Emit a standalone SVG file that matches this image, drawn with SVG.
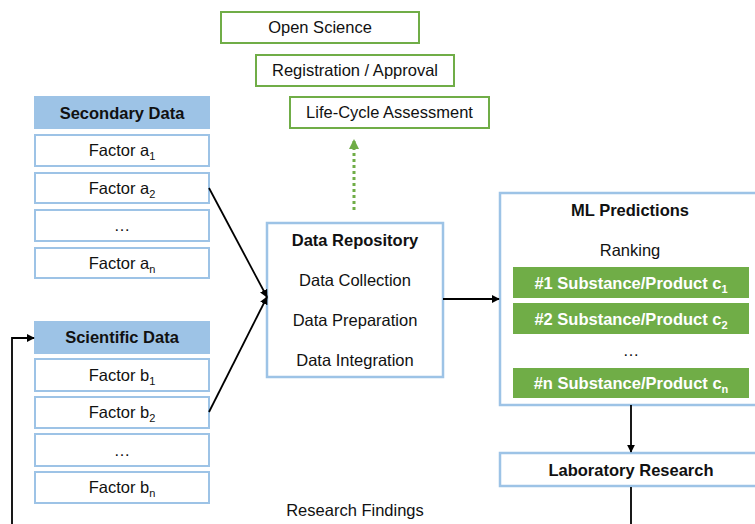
<svg xmlns="http://www.w3.org/2000/svg" width="755" height="524" viewBox="0 0 755 524">
<style>
text{font-family:"Liberation Sans",Arial,sans-serif;font-size:16.5px;fill:#111;text-anchor:middle}
.b{font-weight:bold}
.w{fill:#fff;font-weight:bold}
.hdr{fill:#9DC3E6;stroke:#9DC3E6;stroke-width:2}
.box{fill:#fff;stroke:#9DC3E6;stroke-width:2}
.big{fill:#fff;stroke:#9DC3E6;stroke-width:2.5}
.gbox{fill:#fff;stroke:#70AD47;stroke-width:2}
.gbar{fill:#70AD47}
.ln{fill:none;stroke:#000;stroke-width:1.8}
.sub{font-size:11px}
</style>
<defs>
<marker id="ah" viewBox="0 0 10 10" refX="9" refY="5" markerWidth="8" markerHeight="8" markerUnits="userSpaceOnUse" orient="auto"><path d="M0,0L10,5L0,10z" fill="#000"/></marker>
<marker id="ag" viewBox="0 0 10 10" refX="9" refY="5" markerWidth="10" markerHeight="10" markerUnits="userSpaceOnUse" orient="auto"><path d="M0,0L10,5L0,10z" fill="#70AD47"/></marker>
</defs>
<g id="open-science"><rect class="gbox" x="221" y="12" width="198" height="31"/><text x="320" y="33">Open Science</text></g>
<g id="registration"><rect class="gbox" x="256" y="55" width="198" height="31"/><text x="355" y="76">Registration / Approval</text></g>
<g id="lca"><rect class="gbox" x="290" y="97" width="199" height="31"/><text x="389.5" y="118">Life-Cycle Assessment</text></g>

<g id="secondary-data">
<rect class="hdr" x="35" y="97" width="174" height="31"/><text class="b" x="122" y="118.5">Secondary Data</text>
<rect class="box" x="35" y="135" width="174" height="31"/><text x="122" y="156">Factor a<tspan class="sub" dy="4">1</tspan></text>
<rect class="box" x="35" y="173" width="174" height="30"/><text x="122" y="193.5">Factor a<tspan class="sub" dy="4">2</tspan></text>
<rect class="box" x="35" y="210" width="174" height="31"/><text x="122" y="231">…</text>
<rect class="box" x="35" y="248" width="174" height="30"/><text x="122" y="268.5">Factor a<tspan class="sub" dy="4">n</tspan></text>
</g>
<g id="scientific-data">
<rect class="hdr" x="35" y="322" width="174" height="31"/><text class="b" x="122" y="343">Scientific Data</text>
<rect class="box" x="35" y="359" width="174" height="32"/><text x="122" y="381">Factor b<tspan class="sub" dy="4">1</tspan></text>
<rect class="box" x="35" y="397" width="174" height="31"/><text x="122" y="418">Factor b<tspan class="sub" dy="4">2</tspan></text>
<rect class="box" x="35" y="434" width="174" height="32"/><text x="122" y="456">…</text>
<rect class="box" x="35" y="472" width="174" height="31"/><text x="122" y="493">Factor b<tspan class="sub" dy="4">n</tspan></text>
</g>
<g id="data-repository">
<rect class="big" x="267" y="223" width="176" height="154"/>
<text class="b" x="355" y="246">Data Repository</text>
<text x="355" y="286">Data Collection</text>
<text x="355" y="326">Data Preparation</text>
<text x="355" y="366">Data Integration</text>
</g>
<g id="ml-predictions">
<rect class="big" x="500" y="193" width="265" height="212"/>
<text class="b" x="630" y="216">ML Predictions</text>
<text x="630" y="256">Ranking</text>
<rect class="gbar" x="513" y="267" width="236" height="31"/><text class="w" x="631" y="289">#1 Substance/Product c<tspan class="sub" dy="4">1</tspan></text>
<rect class="gbar" x="513" y="303" width="236" height="31"/><text class="w" x="631" y="325">#2 Substance/Product c<tspan class="sub" dy="4">2</tspan></text>
<text x="631" y="356">…</text>
<rect class="gbar" x="513" y="368" width="236" height="30"/><text class="w" x="631" y="389">#n Substance/Product c<tspan class="sub" dy="4">n</tspan></text>
</g>
<g id="laboratory-research">
<rect class="big" x="500" y="453" width="265" height="33"/>
<text class="b" x="631" y="476">Laboratory Research</text>
</g>
<g id="research-findings"><text x="355" y="516">Research Findings</text></g>
<g id="connectors">
<line class="ln" x1="209" y1="188" x2="267" y2="297" marker-end="url(#ah)"/>
<line class="ln" x1="209" y1="412" x2="267" y2="297" marker-end="url(#ah)"/>
<line class="ln" x1="443" y1="299" x2="499" y2="299" marker-end="url(#ah)"/>
<line class="ln" x1="631" y1="405" x2="631" y2="452" marker-end="url(#ah)"/>
<line class="ln" x1="631" y1="487" x2="631" y2="524"/>
<polyline class="ln" points="12,524 12,338 34,338" marker-end="url(#ah)"/>
<line x1="354" y1="210" x2="354" y2="140" stroke="#70AD47" stroke-width="3" stroke-dasharray="3,3" marker-end="url(#ag)"/>
</g>
</svg>
